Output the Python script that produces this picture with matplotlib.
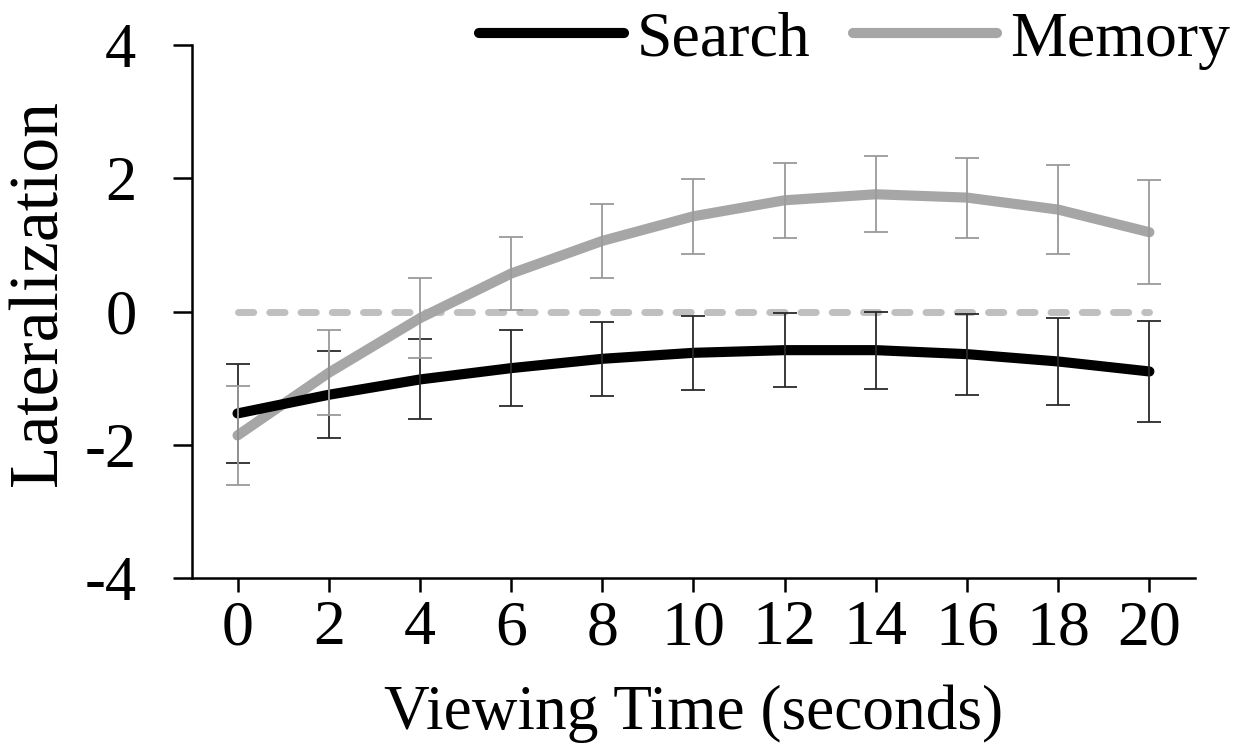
import matplotlib
matplotlib.use("Agg")
import matplotlib.pyplot as plt
import numpy as np

plt.rcParams['font.family'] = ['Liberation Serif', 'DejaVu Serif']

time_s = [0, 2, 4, 6, 8, 10, 12, 14, 16, 18, 20]

# mean lateralization
search = [-1.53, -1.25, -1.02, -0.85, -0.71, -0.62, -0.58, -0.58, -0.64, -0.75, -0.90]
memory = [-1.86, -0.92, -0.10, 0.57, 1.06, 1.43, 1.67, 1.76, 1.71, 1.53, 1.19]

# error bar half-widths
search_err = [0.74, 0.65, 0.60, 0.57, 0.56, 0.56, 0.56, 0.58, 0.61, 0.66, 0.76]
memory_err = [0.74, 0.64, 0.60, 0.55, 0.56, 0.56, 0.56, 0.57, 0.60, 0.67, 0.78]

fig = plt.figure(figsize=(12.44, 7.51), dpi=100)
ax = fig.add_axes([0.1543, 0.2304, 0.8063, 0.7096])

# zero reference line
ax.plot([time_s[0], time_s[-1]], [0, 0], color='#BFBFBF', lw=5,
        dashes=(2.2, 2.3), dash_capstyle='round', zorder=1)

ax.plot(time_s, search, color='black', lw=7.3, solid_capstyle='round',
        solid_joinstyle='round', label='Search', zorder=3)
ax.plot(time_s, memory, color='#A6A6A6', lw=7.3, solid_capstyle='round',
        solid_joinstyle='round', label='Memory', zorder=2)

ax.errorbar(time_s, search, yerr=search_err, fmt='none', ecolor='#2a2a2a',
            elinewidth=1.3, capsize=8.6, capthick=1.3, zorder=4)
ax.errorbar(time_s, memory, yerr=memory_err, fmt='none', ecolor='#9A9A9A',
            elinewidth=1.3, capsize=8.6, capthick=1.3, zorder=4)

ax.set_xlim(-1, 21)
ax.set_ylim(-4, 4)
ax.set_xticks(time_s)
ax.set_yticks([-4, -2, 0, 2, 4])
ax.set_yticklabels(['-4', '-2', '0', '2', '4'])

for s in ['top', 'right']:
    ax.spines[s].set_visible(False)
for s in ['left', 'bottom']:
    ax.spines[s].set_linewidth(1.8)

ax.tick_params(axis='both', direction='out', width=1.8)
ax.tick_params(axis='x', length=10, labelsize=46, pad=6)
ax.tick_params(axis='y', length=14, labelsize=45, pad=26)

ax.set_xlabel('Viewing Time (seconds)', fontsize=45.5)
ax.xaxis.set_label_coords(0.5, -0.2)
ax.set_ylabel('Lateralization', fontsize=50)
ax.yaxis.set_label_coords(-0.12, 0.535)

fig.legend(loc='upper right', bbox_to_anchor=(1.035, 1.062), ncol=2,
           frameon=False, fontsize=46, handlelength=2.26, handletextpad=0.2,
           columnspacing=0.67)

fig.savefig('out.png', dpi=100)
